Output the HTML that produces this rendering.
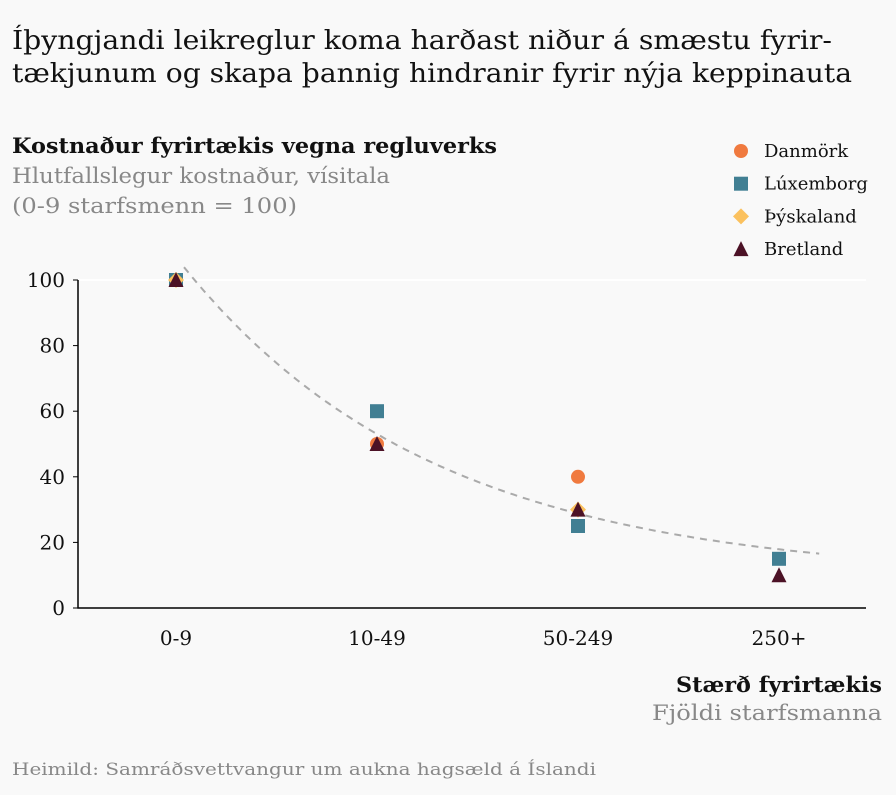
<!DOCTYPE html>
<html><head><meta charset="utf-8"><style>
body{margin:0;background:#f9f9f9;}
svg{display:block;font-family:"DejaVu Serif","Liberation Serif",serif;}
</style></head><body>
<svg id="c" width="896" height="795" xmlns="http://www.w3.org/2000/svg">
<rect width="896" height="795" fill="#f9f9f9"/>
<text x="12" y="49" font-size="26" fill="#111" textLength="820" lengthAdjust="spacingAndGlyphs">Íþyngjandi leikreglur koma harðast niður á smæstu fyrir-</text>
<text x="12" y="82" font-size="26" fill="#111" textLength="840" lengthAdjust="spacingAndGlyphs">tækjunum og skapa þannig hindranir fyrir nýja keppinauta</text>
<text x="12" y="153" font-size="21" font-weight="bold" fill="#111" textLength="485" lengthAdjust="spacingAndGlyphs">Kostnaður fyrirtækis vegna regluverks</text>
<text x="12" y="183" font-size="21" fill="#888" textLength="378" lengthAdjust="spacingAndGlyphs">Hlutfallslegur kostnaður, vísitala</text>
<text x="12" y="213" font-size="21" fill="#888" textLength="285" lengthAdjust="spacingAndGlyphs">(0-9 starfsmenn = 100)</text>
<g id="plot"></g>
<g id="legend"></g>
<text x="882" y="692" font-size="21" font-weight="bold" text-anchor="end" fill="#111" textLength="206" lengthAdjust="spacingAndGlyphs">Stærð fyrirtækis</text>
<text x="882" y="720" font-size="21" text-anchor="end" fill="#888" textLength="230" lengthAdjust="spacingAndGlyphs">Fjöldi starfsmanna</text>
<text x="12" y="775" font-size="17" fill="#888" textLength="584" lengthAdjust="spacingAndGlyphs">Heimild: Samráðsvettvangur um aukna hagsæld á Íslandi</text>
</svg>
<script>
const categories=["0-9","10-49","50-249","250+"];
const seriesNames=["Danmörk","Lúxemborg","Þýskaland","Bretland"];
const danmork=[100,50,40,null];
const luxemborg=[100,60,25,15];
const thyskaland=[100,null,30,null];
const bretland=[100,50,30,10];
const yTicks=[0,20,40,60,80,100];
const trendParams=[9,98,0.8];
const NS="http://www.w3.org/2000/svg";
const x0=78,x1=866,y0=608,y100=280;
const xs=i=>176+i*201;
const ys=v=>y0-(v/100)*(y0-y100);
const plot=document.getElementById('plot');
function mk(tag,attrs,parent){const e=document.createElementNS(NS,tag);for(const k in attrs)e.setAttribute(k,attrs[k]);parent.appendChild(e);return e;}
let g=mk('line',{x1:x0,x2:x1,y1:ys(100),y2:ys(100),stroke:'#fff','stroke-width':2},plot);


yTicks.forEach(t=>{
 const l=mk('line',{x1:x0-5,x2:x0,y1:ys(t),y2:ys(t),stroke:'#000','stroke-width':1},plot);
 
 
 const tx=mk('text',{x:x0-13,y:ys(t)+7,'font-size':20,'text-anchor':'end',fill:'#111'},plot);
 tx.textContent=t;
 
 
});
let ax=mk('path',{d:`M${x0},${ys(100)}V${y0}H${x1}`,fill:'none',stroke:'#000','stroke-width':1.5},plot);


categories.forEach((c,i)=>{
 const tx=mk('text',{x:xs(i),y:645,'font-size':20,'text-anchor':'middle',fill:'#111'},plot);
 tx.textContent=c;
 
 
});
let d='';
for(let t=0.04;t<=3.2001;t+=0.02){const v=trendParams[0]+trendParams[1]*Math.exp(-trendParams[2]*t);d+=(d?'L':'M')+xs(t).toFixed(1)+','+ys(v).toFixed(1);}
let tr=mk('path',{d:d,fill:'none',stroke:'#aaa','stroke-width':2,'stroke-dasharray':'7,6'},plot);


const colors=["#f07a3f","#417f93","#fbc15e","#4c1226"];
function marker(type,x,y,parent,color){
 if(type===0)return mk('circle',{cx:x,cy:y,r:7,fill:color},parent);
 if(type===1)return mk('rect',{x:x-7,y:y-7,width:14,height:14,fill:color},parent);
 if(type===2)return mk('path',{d:`M${x},${y-8}L${x+8},${y}L${x},${y+8}L${x-8},${y}Z`,fill:color},parent);
 return mk('path',{d:`M${x},${y-8}L${x+7.5},${y+7}L${x-7.5},${y+7}Z`,fill:color},parent);
}
[danmork,luxemborg,thyskaland,bretland].forEach((s,si)=>{
 s.forEach((v,i)=>{
  if(v===null)return;
  const m=marker(si,xs(i),ys(v),plot,colors[si]);
  
  
 });
});
const lg=document.getElementById('legend');
seriesNames.forEach((n,i)=>{
 const y=151+i*32.7;
 const m=marker(i,741,y,lg,colors[i]);
 
 
 const t=mk('text',{x:764,y:y+6,'font-size':18,fill:'#111'},lg);
 t.textContent=n;
 
 
});
</script>
</body></html>
